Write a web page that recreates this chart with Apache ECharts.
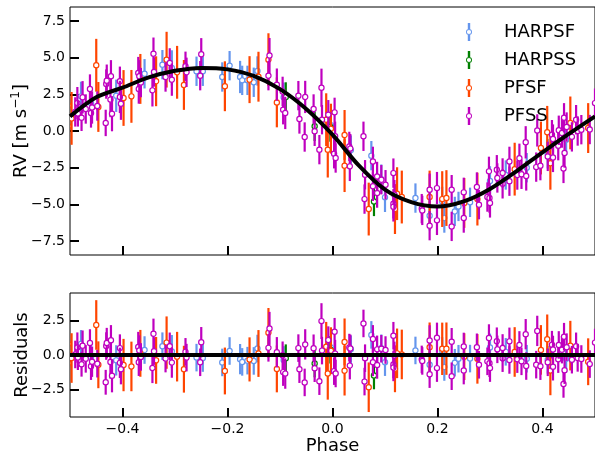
<!DOCTYPE html>
<html><head><meta charset="utf-8">
<script src="https://cdn.jsdelivr.net/npm/echarts@6/dist/echarts.min.js"></script>
<style>html,body{margin:0;padding:0;background:#fff}#c{width:595px;height:456px}</style>
</head><body><div id="c"></div><script>
// ---- data (phase, RV [m/s], error, residual) ----
const modelPhase = [-0.5,-0.45,-0.4,-0.35,-0.3,-0.25,-0.2,-0.15,-0.1,-0.05,0.0,0.05,0.1,0.15,0.2,0.25,0.3,0.35,0.4,0.45,0.5];
const modelRV    = [1.0,2.3,2.95,3.65,4.1,4.3,4.2,3.75,2.85,1.5,-0.25,-2.35,-4.0,-4.85,-5.15,-4.8,-3.95,-2.75,-1.45,-0.2,1.0];

const harpsf = [
  [-0.479,2.36,1.0,0.81],[-0.46,1.9,1.0,-0.14],[-0.412,2.4,1.1,-0.39],[-0.358,3.9,1.0,0.36],
  [-0.324,4.52,1.0,0.64],[-0.306,4.3,1.2,0.25],[-0.259,4.07,1.0,-0.19],[-0.247,4.07,1.0,-0.22],
  [-0.21,3.68,1.0,-0.54],[-0.196,4.45,1.0,0.29],[-0.176,3.68,1.1,-0.3],[-0.172,3.45,1.0,-0.5],
  [-0.162,3.45,1.0,-0.41],[-0.15,3.32,1.0,-0.43],[-0.143,4.09,1.0,0.47],[-0.093,2.3,1.0,-0.36],
  [-0.003,0.4,1.0,0.55],[0.035,-1.3,1.0,0.42],[0.074,-1.68,1.0,1.46],[0.093,-3.28,1.0,0.49],
  [0.1,-4.52,1.0,-0.52],[0.158,-4.57,1.0,0.33],[0.185,-5.77,1.0,-0.71],[0.209,-4.8,1.0,0.29],
  [0.213,-5.93,1.0,-0.87],[0.233,-5.48,1.0,-0.56],[0.24,-5.14,1.0,-0.27],[0.262,-4.86,1.0,-0.26],
  [0.3,-3.4,1.0,0.55],[0.33,-3.0,1.0,0.23],[0.37,-2.5,1.0,-0.27],[0.41,-1.55,1.0,-0.35],
  [0.445,-0.6,1.0,-0.27]
];
const harpss = [
  [-0.089,2.32,1.0,-0.23],[-0.034,0.32,1.0,-0.62],[-0.004,0.27,1.0,0.38],[0.079,-4.8,1.0,-1.49]
];
const pfsf = [
  [-0.503,1.73,1.9,0.81],[-0.503,0.32,1.9,-0.6],[-0.497,0.86,1.8,-0.22],[-0.45,4.48,1.8,2.18],
  [-0.446,1.64,1.7,-0.71],[-0.398,2.25,1.9,-0.73],[-0.383,2.36,1.8,-0.83],[-0.366,3.55,1.7,0.12],
  [-0.336,3.39,1.7,-0.39],[-0.316,4.86,1.9,0.9],[-0.296,4.0,1.8,-0.12],[-0.283,3.14,1.7,-1.03],
  [-0.205,3.05,1.7,-1.16],[-0.158,3.5,1.6,-0.32],[-0.141,3.7,1.7,0.11],[-0.122,4.86,1.8,1.61],
  [-0.106,1.95,1.7,-1.01],[-0.012,0.77,1.8,0.6],[-0.009,-1.27,1.9,-1.34],[-0.003,0.16,1.7,0.31],
  [0.023,-0.27,1.7,0.95],[0.023,-2.36,1.8,-1.14],[0.069,-5.32,1.8,-2.34],[0.123,-4.27,1.8,0.12],
  [0.119,-5.32,1.7,-1.0],[0.132,-4.5,1.8,0.04],[0.185,-4.5,1.8,0.56],[0.209,-4.64,1.9,0.45],
  [0.217,-4.57,1.9,0.46],[0.251,-4.9,1.7,-0.12],[0.276,-4.64,1.8,-0.28],[0.347,-2.6,1.8,0.22],
  [0.397,-1.16,1.8,0.37],[0.409,-0.09,1.8,1.14],[0.415,-2.2,1.8,-1.12],[0.453,0.55,1.8,0.68],
  [0.487,0.2,1.7,-0.49]
];
const pfss = [
  [-0.49,1.3,1.0,0.04],[-0.486,1.9,1.1,0.54],[-0.485,1.2,0.9,-0.19],[-0.478,0.9,0.9,-0.67],
  [-0.476,2.3,1.1,0.68],[-0.47,1.5,1.0,-0.28],[-0.462,2.86,1.0,0.87],[-0.46,1.23,1.0,-0.81],
  [-0.458,1.6,1.1,-0.49],[-0.448,1.7,1.0,-0.63],[-0.432,0.55,0.9,-1.98],[-0.431,3.2,1.0,0.65],
  [-0.43,3.43,1.1,0.87],[-0.423,2.14,1.2,-0.51],[-0.42,1.18,1.2,-1.51],[-0.422,3.73,1.1,1.07],
  [-0.405,3.39,1.0,0.5],[-0.405,2.32,1.1,-0.57],[-0.403,1.86,1.1,-1.03],[-0.37,3.95,1.1,0.58],
  [-0.369,2.86,1.0,-0.52],[-0.368,3.73,1.1,0.33],[-0.365,3.3,1.0,-0.14],[-0.343,2.77,1.1,-0.94],
  [-0.341,5.27,1.1,1.54],[-0.34,4.02,1.0,0.28],[-0.318,3.68,1.0,-0.26],[-0.31,4.64,1.0,0.63],
  [-0.306,3.5,1.1,-0.55],[-0.28,4.41,1.0,0.23],[-0.278,4.0,1.0,-0.19],[-0.252,3.77,1.0,-0.53],
  [-0.25,5.23,1.1,0.93],[-0.12,5.14,1.2,1.93],[-0.122,3.77,1.0,0.52],[-0.106,3.16,1.1,0.2],
  [-0.094,1.45,1.0,-1.24],[-0.09,1.23,1.1,-1.35],[-0.095,2.7,1.0,-0.02],[-0.065,2.41,1.0,0.5],
  [-0.063,0.82,1.0,-1.03],[-0.052,2.32,1.1,0.77],[-0.053,-0.41,1.0,-1.99],[-0.036,1.5,1.0,0.49],
  [-0.034,-0.02,1.0,-0.96],[-0.025,-1.27,1.0,-1.9],[-0.021,2.95,1.3,2.46],[-0.02,0.77,1.0,0.32],
  [-0.008,1.11,1.0,1.08],[0.004,1.27,1.0,1.69],[0.005,-0.36,1.0,0.1],[0.003,-1.55,1.0,-1.17],
  [0.006,-1.84,1.0,-1.34],[0.032,-1.05,1.0,0.54],[0.034,-1.2,1.0,0.48],[0.033,-2.41,1.0,-0.77],
  [0.059,-0.36,1.0,2.29],[0.062,-2.98,1.0,-0.23],[0.061,-4.64,1.0,-1.93],[0.077,-3.77,1.0,-0.53],
  [0.085,-4.23,1.0,-0.72],[0.085,-3.1,1.0,0.41],[0.093,-3.32,1.0,0.45],[0.077,-2.07,1.0,1.17],
  [0.101,-3.66,1.0,0.36],[0.116,-2.87,1.0,1.4],[0.116,-4.96,1.0,-0.69],[0.116,-5.17,1.0,-0.9],
  [0.118,-4.34,1.0,-0.03],[0.17,-5.29,1.0,-0.32],[0.171,-5.41,1.0,-0.43],[0.185,-4.0,1.1,1.06],
  [0.185,-6.45,1.0,-1.39],[0.199,-3.89,1.1,1.25],[0.199,-6.09,1.0,-0.95],[0.227,-4.0,1.0,0.96],
  [0.227,-6.5,1.0,-1.54],[0.25,-4.18,1.0,0.62],[0.25,-5.93,1.0,-1.13],[0.275,-3.82,1.0,0.56],
  [0.279,-5.02,1.0,-0.71],[0.295,-4.5,1.0,-0.46],[0.298,-2.75,1.0,1.23],[0.299,-4.57,1.0,-0.6],
  [0.3,-4.9,1.0,-0.95],[0.313,-2.64,1.0,1.0],[0.314,-3.2,1.0,0.41],[0.324,-3.6,1.0,-0.23],
  [0.324,-2.86,1.0,0.51],[0.337,-2.07,1.0,0.99],[0.337,-3.42,1.0,-0.36],[0.352,-3.0,1.0,-0.3],
  [0.356,-1.86,1.0,0.73],[0.36,-2.95,1.0,-0.46],[0.368,-0.77,1.1,1.51],[0.369,-3.06,1.0,-0.8],
  [0.388,-2.46,1.0,-0.7],[0.39,0.04,1.1,1.75],[0.396,-2.36,1.0,-0.81],[0.41,-1.73,1.0,-0.53],
  [0.418,-0.25,1.0,0.75],[0.42,-0.55,1.0,0.4],[0.42,-1.8,1.0,-0.85],[0.43,-1.0,1.0,-0.3],
  [0.431,0.05,1.0,0.73],[0.437,-0.14,1.0,0.39],[0.44,-2.55,1.0,-2.1],[0.441,0.9,1.0,1.33],
  [0.442,-1.5,1.0,-1.1],[0.446,0.27,1.0,0.57],[0.456,-0.4,1.0,-0.34],[0.464,0.77,1.0,0.63],
  [0.467,0.0,1.0,-0.21],[0.474,0.09,1.0,-0.29],[0.49,0.1,1.0,-0.66],[0.5,1.9,1.0,0.9]
];
const seriesNames = ['HARPSF','HARPSS','PFSF','PFSS'];
const xTicks = [-0.4,-0.2,0.0,0.2,0.4];
const rvTicks = [-7.5,-5.0,-2.5,0.0,2.5,5.0,7.5];
const resTicks = [-2.5,0.0,2.5];

// ---- styling ----
const FONT = 'DejaVu Sans';
const colors = {HARPSF:'#6495ED', HARPSS:'#008000', PFSF:'#FF4500', PFSS:'#BF00BF'};
const fmt = v => (Math.abs(v) < 1e-9 ? '0.0' : v.toFixed(1)).replace('-', '\u2212');

function errSeries(name, rows, col, idx) {
  const color = colors[name];
  return {
    name, type: 'custom', xAxisIndex: idx, yAxisIndex: idx, clip: true, z: 2,
    itemStyle: {color}, encode: {x: 0, y: 1},
    data: rows.map(r => [r[0], r[col], r[2]]),
    renderItem: (params, api) => {
      const x = api.value(0), y = api.value(1), e = api.value(2);
      const t = api.coord([x, y + e]), b = api.coord([x, y - e]), c = api.coord([x, y]);
      return {type: 'group', children: [
        {type: 'line', shape: {x1: t[0], y1: t[1], x2: b[0], y2: b[1]}, style: {stroke: color, lineWidth: 2.2}},
        {type: 'circle', shape: {cx: c[0], cy: c[1], r: 2.6}, style: {fill: '#fff', stroke: color, lineWidth: 1.2}}
      ]};
    }
  };
}

const tickStyle = {show: true, inside: true, length: 9, lineStyle: {color: '#000', width: 2}};
const labelStyle = {fontFamily: FONT, fontSize: 14, color: '#000'};
const noLine = {show: false, onZero: false};

const chart = echarts.init(document.getElementById('c'), null, {renderer: 'canvas'});
const dataSets = {HARPSF: harpsf, HARPSS: harpss, PFSF: pfsf, PFSS: pfss};
const series = [];
seriesNames.forEach(n => series.push(errSeries(n, dataSets[n], 1, 0)));
series.push({type: 'line', xAxisIndex: 0, yAxisIndex: 0, showSymbol: false, smooth: 0.3, z: 5,
  lineStyle: {color: '#000', width: 4}, data: modelPhase.map((p, i) => [p, modelRV[i]])});
seriesNames.forEach(n => series.push(errSeries(n, dataSets[n], 3, 1)));
series.push({type: 'line', xAxisIndex: 1, yAxisIndex: 1, showSymbol: false, z: 5,
  lineStyle: {color: '#000', width: 4}, data: [[-0.5, 0], [0.5, 0]]});

const legendIcon = 'path://M4,0 L8,0 L8,10 L4,10 Z M4,20 L8,20 L8,30 L4,30 Z M6,10 A5,5 0 1,1 6,20 A5,5 0 1,1 6,10 Z M6,11.5 A3.5,3.5 0 1,0 6,18.5 A3.5,3.5 0 1,0 6,11.5 Z';

chart.setOption({
  animation: false,
  backgroundColor: '#fff',
  grid: [
    {left: 70, right: 0, top: 7, height: 248, outerBoundsMode: 'none', containLabel: false,
      show: true, borderColor: '#000', borderWidth: 1, backgroundColor: 'transparent'},
    {left: 70, right: 0, top: 293, height: 124, outerBoundsMode: 'none', containLabel: false,
      show: true, borderColor: '#000', borderWidth: 1, backgroundColor: 'transparent'}
  ],
  legend: {
    data: seriesNames, orient: 'vertical', left: 461, top: 18, selectedMode: false,
    icon: legendIcon, itemWidth: 60, itemHeight: 18, itemGap: 10,
    textStyle: {fontFamily: FONT, fontSize: 18, color: '#000', lineHeight: 18}
  },
  xAxis: [
    {gridIndex: 0, type: 'value', min: -0.5, max: 0.5, axisLine: noLine, splitLine: {show: false},
      axisTick: Object.assign({customValues: xTicks}, tickStyle), axisLabel: {show: false, customValues: xTicks}},
    {gridIndex: 1, type: 'value', min: -0.5, max: 0.5, axisLine: noLine, splitLine: {show: false},
      axisTick: Object.assign({customValues: xTicks}, tickStyle),
      axisLabel: Object.assign({customValues: xTicks, margin: 5, formatter: fmt}, labelStyle),
      name: 'Phase', nameLocation: 'middle', nameGap: 20, nameMoveOverlap: false,
      nameTextStyle: {fontFamily: FONT, fontSize: 18, color: '#000'}}
  ],
  yAxis: [
    {gridIndex: 0, type: 'value', min: -8.45, max: 8.45, axisLine: noLine, splitLine: {show: false},
      axisTick: Object.assign({customValues: rvTicks}, tickStyle),
      axisLabel: Object.assign({customValues: rvTicks, margin: 5, formatter: fmt}, labelStyle),
      name: 'RV [m s{sup|\u22121}]', nameLocation: 'middle', nameGap: 38, nameMoveOverlap: false,
      nameTextStyle: {fontFamily: FONT, fontSize: 18, color: '#000',
        rich: {sup: {fontFamily: FONT, fontSize: 12, color: '#000', verticalAlign: 'top', lineHeight: 22}}}},
    {gridIndex: 1, type: 'value', min: -4.5, max: 4.5, axisLine: noLine, splitLine: {show: false},
      axisTick: Object.assign({customValues: resTicks}, tickStyle),
      axisLabel: Object.assign({customValues: resTicks, margin: 5, formatter: fmt}, labelStyle),
      name: 'Residuals', nameLocation: 'middle', nameGap: 39, nameMoveOverlap: false,
      nameTextStyle: {fontFamily: FONT, fontSize: 18, color: '#000'}}
  ],
  series
});
</script></body></html>
